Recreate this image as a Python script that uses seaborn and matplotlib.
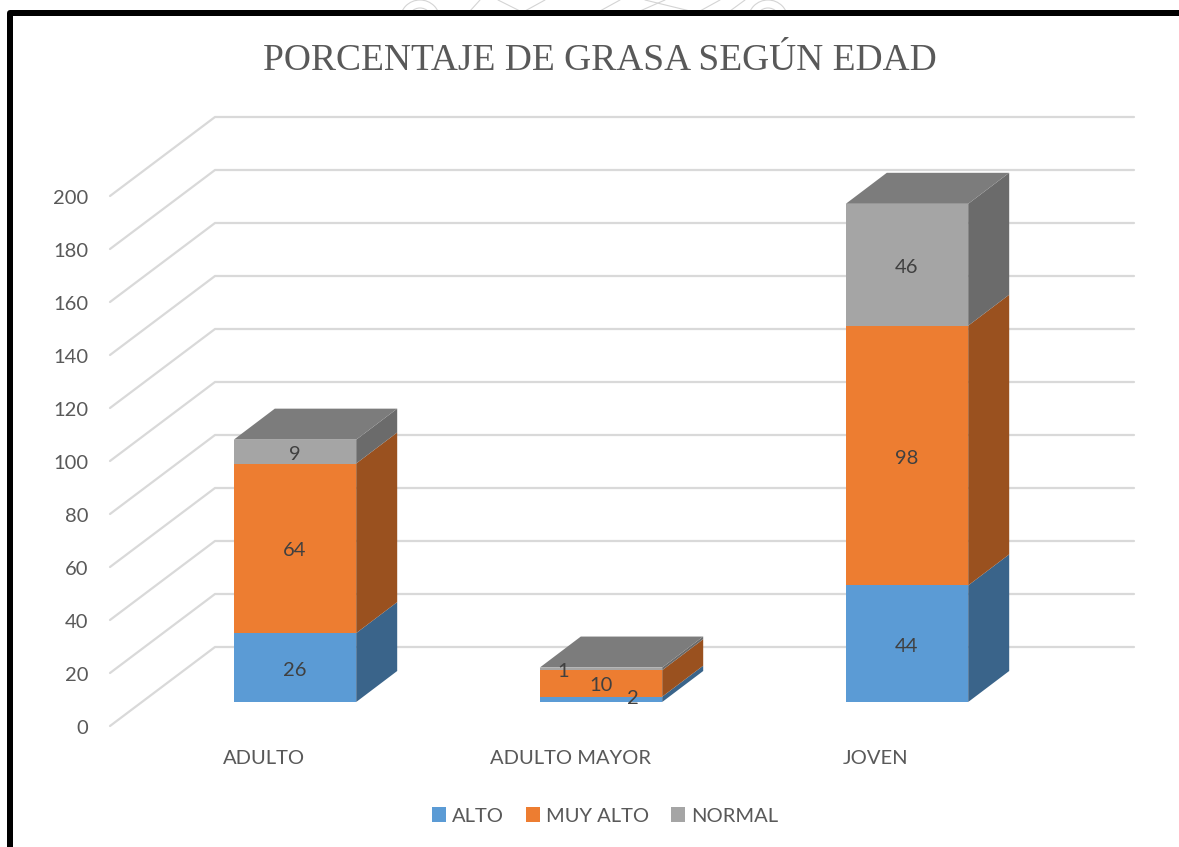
import numpy as np
import matplotlib
matplotlib.use("Agg")
import matplotlib.pyplot as plt
from matplotlib.patches import Polygon, Patch, Rectangle, Ellipse
from matplotlib.lines import Line2D
import seaborn as sns

categories = ["ADULTO", "ADULTO MAYOR", "JOVEN"]
alto = [26, 2, 44]
muy_alto = [64, 10, 98]
normal = [9, 1, 46]
series_names = ["ALTO", "MUY ALTO", "NORMAL"]
yticks = [0, 20, 40, 60, 80, 100, 120, 140, 160, 180, 200]
title = "PORCENTAJE DE GRASA SEGÚN EDAD"

front_colors = ["#5B9BD5", "#ED7D31", "#A5A5A5"]
side_colors = ["#3A648A", "#9A511F", "#6B6B6B"]
top_color = "#7C7C7C"

W, H = 1179, 847
DPI = 100
sns.set_theme(style="white")
plt.rcParams["font.family"] = ["Lato", "DejaVu Sans"]

fig = plt.figure(figsize=(W / DPI, H / DPI), dpi=DPI, facecolor="white")
ax = fig.add_axes([0, 0, 1, 1])

# pixel <-> data scale of the drawing
PX_CAT = 306.0          # px per category
PX_VAL = 2.65           # px per value unit
X0_PX, Y0_PX = 295.0, 702.0
ax_xlim = (-X0_PX / PX_CAT, (W - X0_PX) / PX_CAT)
ax_ylim = ((Y0_PX - H) / PX_VAL, Y0_PX / PX_VAL)
def dx(px): return px / PX_CAT
def dv(px): return px / PX_VAL

# stacked front faces, through seaborn
series = [alto, muy_alto, normal]
bottoms = np.zeros(3)
BW = 0.4
for vals, name, col in zip(series, series_names, front_colors):
    sns.barplot(x=categories, y=vals, bottom=bottoms, color=col, width=BW,
                saturation=1, errorbar=None, ax=ax, zorder=3, linewidth=0)
    bottoms = bottoms + np.array(vals)

# depth faces computed from the values
ddx, ddv = dx(41), dv(31)
bottoms = np.zeros(3)
for vals, side in zip(series, side_colors):
    for i, v in enumerate(vals):
        xr = i + BW / 2
        b, t = bottoms[i], bottoms[i] + v
        ax.add_patch(Polygon([(xr, b), (xr + ddx, b + ddv), (xr + ddx, t + ddv), (xr, t)],
                             closed=True, fc=side, ec="none", zorder=3))
    bottoms = bottoms + np.array(vals)
for i, t in enumerate(bottoms):
    xl, xr = i - BW / 2, i + BW / 2
    ax.add_patch(Polygon([(xl, t), (xr, t), (xr + ddx, t + ddv), (xl + ddx, t + ddv)],
                         closed=True, fc=top_color, ec="none", zorder=3))

# floor / wall gridlines
x_front, x_back, x_right = (110 - X0_PX) / PX_CAT, (215 - X0_PX) / PX_CAT, (1134 - X0_PX) / PX_CAT
v_front, v_back = dv(702 - 726), dv(702 - 647)
for v in yticks:
    ax.plot([x_front, x_back, x_right], [v + v_front, v + v_back, v + v_back],
            color="#D9D9D9", lw=1.6, zorder=1, solid_joinstyle="miter")

# data labels (pixel nudges for the crowded short bar)
label_nudge = {(1, 0): (32, 3.5), (1, 2): (-38, 0)}
bottoms = np.zeros(3)
for s, vals in enumerate(series):
    for i, v in enumerate(vals):
        nx, ny = label_nudge.get((i, s), (0, 0))
        ax.text(i + dx(nx), bottoms[i] + v / 2 + dv(ny - 2.5), str(v),
                ha="center", va="center", fontsize=14.5, color="#404040", zorder=5)
    bottoms = bottoms + np.array(vals)

ax.set_xlim(*ax_xlim)
ax.set_ylim(*ax_ylim)

# axes text
ax.set_yticks([v + v_front - dv(1) for v in yticks], [str(v) for v in yticks])
ax.set_xticks([i - dx(31) for i in range(3)], categories)
ax.tick_params(axis="y", length=0, pad=-88 * 72 / DPI, labelsize=14.5, labelcolor="#595959")
ax.tick_params(axis="x", length=0, pad=-97 * 72 / DPI, labelsize=14.5, labelcolor="#595959")
ax.set_xlabel(""); ax.set_ylabel("")
for sp in ax.spines.values():
    sp.set_visible(False)
ax.patch.set_alpha(0)

fig.text(600 / W, 1 - 61 / H, title, ha="center", va="center", fontsize=27,
         color="#595959", family="Liberation Serif")

handles = [Patch(fc=c, ec="none", label=n) for c, n in zip(front_colors, series_names)]
ax.legend(handles=handles, ncol=3, frameon=False, loc="center",
          bbox_to_anchor=(605 / W, 1 - 816 / H), fontsize=14.5, labelcolor="#595959",
          handlelength=0.7, handleheight=0.7, handletextpad=0.3, columnspacing=1.1,
          borderpad=0, borderaxespad=0)

# faint seal showing above the frame, then the frame
strip = Rectangle((0, 1 - 11 / H), 1, 11 / H, transform=fig.transFigure)
for cx, cy, r in [(420, 20, 20), (420, 20, 12), (768, 20, 20), (768, 20, 12)]:
    e = Ellipse((cx / W, 1 - cy / H), 2 * r / W, 2 * r / H, fc="none", ec="#D4D4D4", lw=0.8,
                transform=fig.transFigure)
    e.set_clip_path(strip)
    fig.add_artist(e)
for xs, ys in [((498, 520), (0, 11)), ((525, 545), (11, 0)), ((640, 665), (11, 0)), ((480, 470), (0, 11)),
               ((645, 690), (0, 11)), ((700, 720), (11, 0)), ((745, 730), (0, 11)), ((620, 600), (0, 11))]:
    fig.add_artist(Line2D([x / W for x in xs], [1 - y / H for y in ys], color="#D4D4D4", lw=0.8))
fig.add_artist(Rectangle((10 / W, -20 / H), (W + 30) / W, (H + 20 - 13) / H,
                         fc="none", ec="black", lw=6 * 72 / DPI, joinstyle="round",
                         transform=fig.transFigure, zorder=10))

fig.savefig("out.png", dpi=DPI)
